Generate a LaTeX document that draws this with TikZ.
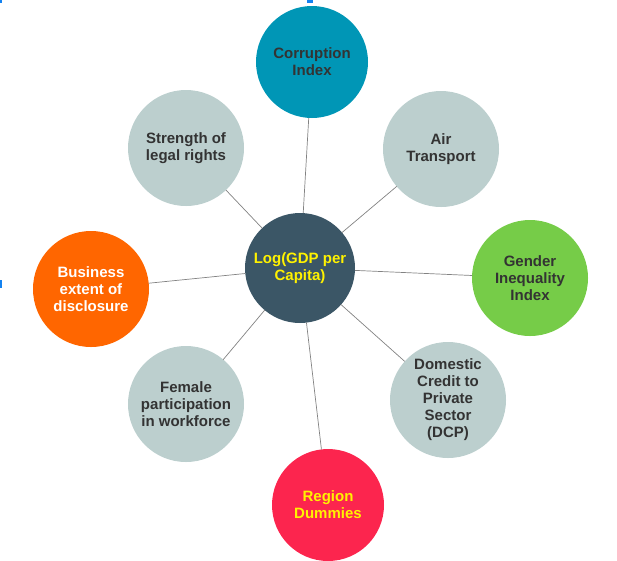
\documentclass[tikz,border=0pt]{standalone}
\usepackage{fontspec}
\setmainfont{Liberation Sans}
\usetikzlibrary{positioning}
\definecolor{slate}{RGB}{59,86,102}
\definecolor{teal}{RGB}{0,150,182}
\definecolor{mist}{RGB}{188,207,206}
\definecolor{leaf}{RGB}{118,204,72}
\definecolor{flame}{RGB}{255,102,0}
\definecolor{rose}{RGB}{252,37,78}
\definecolor{ink}{RGB}{51,51,51}
\definecolor{wire}{RGB}{130,130,130}
\definecolor{handle}{RGB}{20,130,240}
\tikzset{
	hub/.style={
		circle,
		fill=slate,
		minimum size=110pt,
		inner sep=0pt,
		outer sep=0pt,
		align=center,
		text=yellow,
		font=\bfseries\fontsize{15}{17}\selectfont
	},
	factor/.style={
		circle,
		fill=mist,
		minimum size=116pt,
		inner sep=0pt,
		outer sep=0pt,
		align=center,
		text=ink,
		font=\bfseries\fontsize{15}{17}\selectfont
	},
	link/.style={draw=wire,line width=0.7pt}
}

\begin{document}
\begin{tikzpicture}[x=1pt,y=-1pt]
		\useasboundingbox (0,0) rectangle (617,560);
		\node[hub] (gdp) at (300,268) {Log(GDP per\\Capita)};
		\node[factor,fill=teal,minimum size=112pt] (corr) at (312,62) {Corruption\\Index};
		\node[factor] (air) at (441,149) {Air\\Transport};
		\node[factor,fill=leaf] (gender) at (530,278) {Gender\\Inequality\\Index};
		\node[factor] (dcp) at (448,400) {Domestic\\Credit to\\Private\\Sector\\(DCP)};
		\node[factor,fill=rose,text=yellow,minimum size=112pt] (region) at (328,505) {Region\\Dummies};
		\node[factor] (female) at (186,404) {Female\\participation\\in workforce};
		\node[factor,fill=flame,text=white] (business) at (91,289) {Business\\extent of\\disclosure};
		\node[factor] (legal) at (186,148) {Strength of\\legal rights};

		\draw[link] (gdp) -- (corr);
		\draw[link] (gdp) -- (air);
		\draw[link] (gdp) -- (gender);
		\draw[link] (gdp) -- (dcp);
		\draw[link] (gdp) -- (region);
		\draw[link] (gdp) -- (female);
		\draw[link] (gdp) -- (business);
		\draw[link] (gdp) -- (legal);

		% selection marks
		\fill[handle] (0,0) rectangle (2,3);
		\fill[handle] (307,0) rectangle (313,3);
		\fill[handle] (0,280) rectangle (2,288);
	\end{tikzpicture}
\end{document}
